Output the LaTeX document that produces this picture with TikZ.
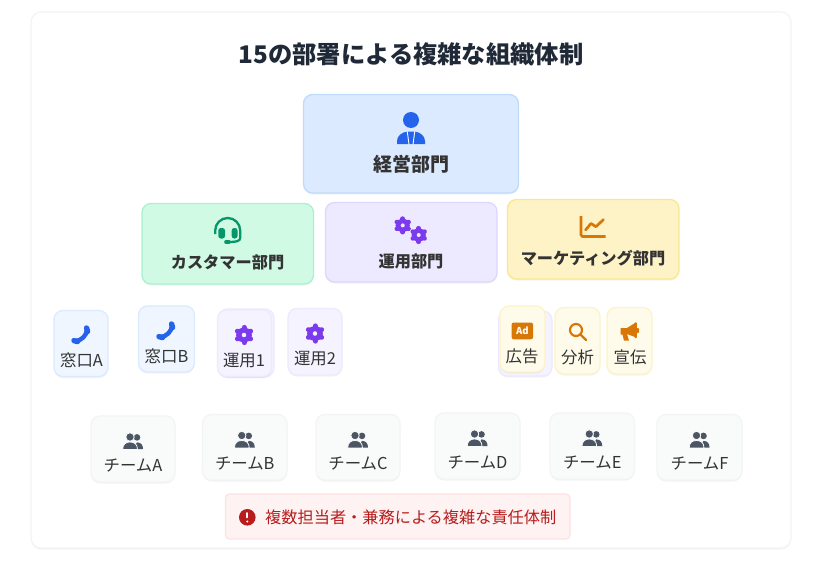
\documentclass[tikz,border=0pt]{standalone}
\usepackage{fontspec}
\setmainfont{Noto Sans CJK JP}
\usetikzlibrary{shadows}
\definecolor{ink}{HTML}{1F2937}\definecolor{inkb}{HTML}{333333}
\definecolor{blueA}{HTML}{DBEAFE}\definecolor{blueB}{HTML}{BFDBFE}\definecolor{blueC}{HTML}{2563EB}\definecolor{blueD}{HTML}{EFF6FF}
\definecolor{greenA}{HTML}{D1FAE5}\definecolor{greenB}{HTML}{A7F3D0}\definecolor{greenC}{HTML}{059669}
\definecolor{violetA}{HTML}{EDE9FE}\definecolor{violetB}{HTML}{DDD6FE}\definecolor{violetC}{HTML}{7C3AED}\definecolor{violetD}{HTML}{F5F3FF}
\definecolor{amberA}{HTML}{FEF3C7}\definecolor{amberB}{HTML}{FDE68A}\definecolor{amberC}{HTML}{D97706}\definecolor{amberD}{HTML}{FFFBEB}
\definecolor{greyA}{HTML}{F9FAFA}\definecolor{greyB}{HTML}{F3F4F6}\definecolor{greyC}{HTML}{4B5563}
\definecolor{redA}{HTML}{FEF2F2}\definecolor{redB}{HTML}{FEE2E2}\definecolor{redC}{HTML}{B91C1C}
\tikzset{
softshadow/.style={drop shadow={shadow xshift=0pt,shadow yshift=-1.5pt,opacity=.05,fill=black}},
box/.style={draw,line width=1.3pt,rounded corners=9pt,softshadow},
big/.style={font=\fontsize{16.2}{16.2}\selectfont\bfseries,text=inkb},
small/.style={font=\fontsize{16.4}{16.4}\selectfont,text=inkb},
pics/cog/.style={code={\draw[line width=.52*#1pt](0,0)circle(.52*#1);
 \foreach \a in {30,90,...,330}\draw[line width=.5*#1pt,line cap=round](\a:.7*#1)--(\a:.76*#1);}},
pics/phone/.style={code={\draw[line width=4.4pt](6,-5)..controls(5.4,.5)and(.5,5.4)..(-5,6);
 \draw[line width=5.4pt,line cap=round](5.6,-7)--(6.6,-3.5);\draw[line width=5.4pt,line cap=round](-7,5.6)--(-3.5,6.6);}},
pics/users/.style={code={\fill(4,-3.6)circle(3.3);\fill(4,1.4)..controls(8,1.4)and(10,4)..(10,8)--(0,8)--cycle;
 \fill[draw=greyA,line width=.8pt](-3,-4)circle(4.2);
 \fill[draw=greyA,line width=.8pt](-10.3,8.4)..controls(-10.3,3)and(-7,1)..(-3,1)..controls(1,1)and(4.5,3)..(4.5,8.4)--cycle;}}
}
\begin{document}
\begin{tikzpicture}[x=1pt,y=-1pt]
\useasboundingbox[fill=white](0,0)rectangle(817,562);
\draw[draw=greyB,fill=white,line width=1.2pt,rounded corners=10pt,softshadow](31,12)rectangle(791,548);
\node[font=\fontsize{24.3}{24.3}\selectfont\bfseries,text=ink](title)at(411,54){15の部署による複雑な組織体制};
% departments
\draw[box,draw=blueB,fill=blueA](303.5,94.5)rectangle(518.5,193);
\draw[box,draw=greenB,fill=greenA](142,203.5)rectangle(313.5,284);
\draw[box,draw=violetB,fill=violetA](325.5,202.5)rectangle(497,282);
\draw[box,draw=amberB,fill=amberA](507.5,199.5)rectangle(679,279);
\node[big,font=\fontsize{19}{19}\selectfont\bfseries](exec)at(411,164){経営部門};
\node[big](cs)at(227.5,262){カスタマー部門};
\node[big](ops)at(411,261){運用部門};
\node[big](mkt)at(593,258){マーケティング部門};
\fill[blueC](411,120)circle(8);
\fill[blueC](397,144)--(397,141)..controls(397,136)and(402,132)..(407,131.7)--(415,131.7)..controls(420,132)and(425,136)..(425,141)--(425,144)--cycle;
\draw[white,line width=.9pt](407.3,131.5)--(409,144.5);\draw[white,line width=.9pt](414.7,131.5)--(413,144.5);
\draw[greenC,line width=2.3pt](215.2,234)--(215.2,230.5)arc[start angle=180,end angle=360,radius=12.5]--(240.2,238)..controls(240.2,241)and(236,242)..(230,242);
\fill[greenC,rounded corners=2.5pt](218.3,228)rectangle(225,238.5);\fill[greenC,rounded corners=2.5pt](231.7,228)rectangle(237.5,238.5);
\draw[greenC,line width=3.6pt,line cap=round](226,242)--(229,242);
\path[draw=violetC](402.7,225.4)pic{cog=9};\path[draw=violetC](418.7,235)pic{cog=9};
\draw[amberC,line width=2.7pt,rounded corners=1.5pt](581,216)--(581,236.5)--(605.5,236.5);
\draw[amberC,line width=2.7pt,line cap=round,line join=round](585.5,230)--(591,223.5)--(596,226.7)--(603.5,219.5);
% desks
\draw[box,draw=blueA,fill=blueD](54,310.5)rectangle(108,376.5);
\draw[box,draw=blueA,fill=blueD](138.5,306)rectangle(194.5,372);
\draw[box,draw=violetA,fill=violetD](218.5,309)rectangle(274,376.5);
\draw[box,draw=violetA,fill=violetD](217.5,310)rectangle(271.5,376.5);
\draw[box,draw=violetA,fill=violetD](288,308.5)rectangle(342,375);
\draw[box,draw=violetA,fill=violetD](498.5,311)rectangle(552,376);
\draw[box,draw=amberA,fill=amberD](500,306)rectangle(545,372);
\draw[box,draw=amberA,fill=amberD](555,307.5)rectangle(600,374);
\draw[box,draw=amberA,fill=amberD](607,307.5)rectangle(652,374);
\node[small](deskA)at(81.5,360){窓口A};
\node[small](deskB)at(166.5,356){窓口B};
\node[small](unyoA)at(244,361){運用1};
\node[small](unyoB)at(315,359){運用2};
\node[small](ad)at(522,356){広告};
\node[small](analysis)at(577.5,357){分析};
\node[small](pr)at(630,357){宣伝};
\path[draw=blueC](81,335)pic{phone};
\path[draw=blueC](166,331)pic{phone};
\path[draw=violetC](244,335)pic{cog=10};\path[draw=violetC](315,333.5)pic{cog=10};
\fill[amberC,rounded corners=2pt](511.7,322.5)rectangle(533,339.3);
\node[font=\fontsize{9.5}{9.5}\selectfont\bfseries,text=white](adtag)at(522.3,331){Ad};
\draw[amberC,line width=2.2pt](576,330)circle(6);\draw[amberC,line width=2.4pt,line cap=round](580.5,334.5)--(586,340);
\fill[amberC](620.7,328)--(627,328)--(635,323)--(635,337)--(627,334)--(629,340.7)--(624,340.7)--(622.5,334.5)--(620.7,334.5)--cycle;
\fill[amberC,rounded corners=.8pt](634.5,322.3)rectangle(636.8,338);\fill[amberC,rounded corners=1pt](636,328)rectangle(639,333);
% teams
\foreach \n/\l/\t/\r/\b/\s in {teamA/91/416/175/482/チームA,teamB/202.5/414.5/287/480/チームB,teamC/316/414.5/400/480/チームC,teamD/435/413/520/479/チームD,teamE/550/413/634.5/479/チームE,teamF/657/414.5/742/480/チームF}{
\draw[box,draw=greyB,fill=greyA](\l,\t)rectangle(\r,\b);
\node[small](\n)at({(\l+\r)/2},\t+49.5){\s};
\path[fill=greyC](\l/2+\r/2,\t+25)pic{users};}
% note
\draw[draw=redB,fill=redA,line width=1.2pt,rounded corners=4pt](225.5,494)rectangle(570,539);
\fill[redC](247.3,517.3)circle(8.3);
\draw[white,line width=1.8pt,line cap=round](247.3,513)--(247.3,517.5);\fill[white](247.3,521.5)circle(1.1);
\node[font=\fontsize{16.2}{16.2}\selectfont,text=redC,anchor=west,inner sep=0pt](note)at(265,517){複数担当者・兼務による複雑な責任体制};
\end{tikzpicture}
\end{document}
